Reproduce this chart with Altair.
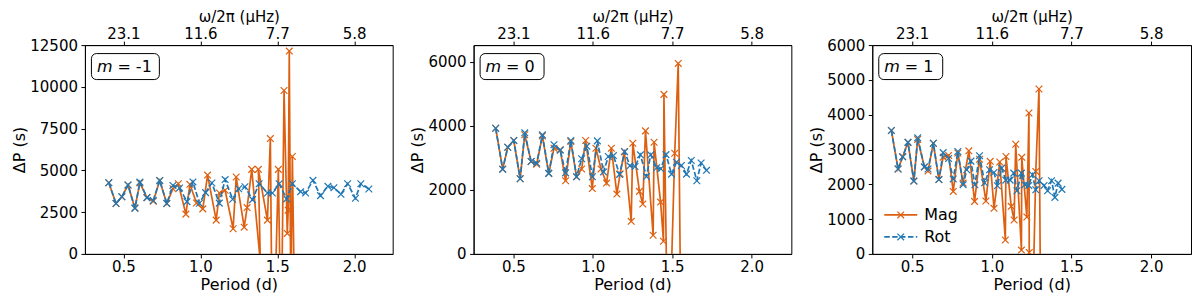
import altair as alt
import pandas as pd

# ---------------- data ----------------
# m = -1
p_rot_m1 = [0.405, 0.452, 0.490, 0.530, 0.575, 0.607, 0.653, 0.694, 0.736, 0.782,
            0.822, 0.865, 0.913, 0.952, 0.994, 1.034, 1.075, 1.123, 1.161, 1.210,
            1.249, 1.290, 1.339, 1.382, 1.436, 1.468, 1.512, 1.561, 1.598, 1.652,
            1.684, 1.732, 1.781, 1.829, 1.868, 1.914, 1.957, 2.008, 2.043, 2.095]
v_rot_m1 = [4260, 3020, 3420, 4125, 2740, 4300, 3370, 3200, 4400, 3020,
            4100, 3950, 3130, 4310, 3030, 3670, 4245, 3040, 4450, 3274,
            3900, 4020, 3250, 4202, 3649, 3649, 4202, 3291, 4202, 3726,
            3649, 4404, 3488, 4047, 3964, 3571, 4202, 3333, 4202, 3887]
p_mag_m1 = [0.405, 0.452, 0.490, 0.530, 0.575, 0.607, 0.653, 0.694, 0.736, 0.782,
            0.822, 0.857, 0.906, 0.932, 0.975, 1.016, 1.047, 1.103, 1.124, 1.161,
            1.213, 1.233, 1.285, 1.304, 1.334, 1.390, 1.377, 1.436, 1.455, 1.470,
            1.507, 1.525, 1.544, 1.565, 1.571, 1.578, 1.588, 1.598, 1.620]
v_mag_m1 = [4260, 3020, 3420, 4125, 2740, 4250, 3370, 3150, 4380, 3020,
            3900, 4200, 2381, 4166, 3050, 2696, 4720, 2024, 3649, 3809,
            1506, 4601, 1600, 2774, 5059, -500, 5059, 2024, 6904, -8000,
            5059, -6000, 9779, 1226, 2619, 12142, -3000, 5833, -8000]

# m = 0
p_rot_0 = [0.389, 0.433, 0.465, 0.503, 0.543, 0.572, 0.612, 0.647, 0.683, 0.723,
           0.756, 0.795, 0.829, 0.862, 0.898, 0.930, 0.963, 0.998, 1.029, 1.068,
           1.098, 1.130, 1.169, 1.201, 1.234, 1.266, 1.300, 1.338, 1.365, 1.402,
           1.428, 1.461, 1.496, 1.527, 1.558, 1.590, 1.620, 1.655, 1.682, 1.716]
v_rot_0 = [3923, 2646, 3330, 3540, 2347, 3780, 2886, 2833, 3717, 2515,
           3410, 3240, 2530, 3540, 2410, 2970, 3360, 2410, 3530, 2560,
           3040, 3070, 2480, 3190, 2751, 2730, 3094, 2414, 3094, 2690,
           2658, 3100, 2491, 2864, 2761, 2491, 2917, 2285, 2840, 2610]
p_mag_0 = [0.389, 0.433, 0.465, 0.503, 0.543, 0.572, 0.612, 0.647, 0.683, 0.723,
           0.756, 0.795, 0.829, 0.862, 0.898, 0.930, 0.955, 0.997, 1.020, 1.052,
           1.087, 1.117, 1.152, 1.172, 1.199, 1.242, 1.252, 1.294, 1.315, 1.332,
           1.380, 1.386, 1.427, 1.445, 1.448, 1.475, 1.516, 1.538, 1.560]
v_mag_0 = [3923, 2646, 3330, 3540, 2347, 3720, 2886, 2800, 3680, 2515,
           3300, 3250, 2284, 3508, 2409, 2650, 3540, 2040, 3300, 2650,
           2211, 3300, 1868, 2500, 3197, 1018, 3456, 1952, 1557, 3842,
           582, 3487, 1619, 395, 4981, -4000, 3144, 5947, -5000]

# m = 1
p_rot_p1 = [0.370, 0.412, 0.441, 0.474, 0.511, 0.535, 0.577, 0.600, 0.633, 0.668,
            0.695, 0.729, 0.758, 0.787, 0.820, 0.843, 0.869, 0.894, 0.923, 0.955,
            0.986, 1.014, 1.035, 1.062, 1.088, 1.115, 1.138, 1.158, 1.186, 1.207,
            1.232, 1.255, 1.276, 1.297, 1.328, 1.350, 1.375, 1.396, 1.416, 1.440]
v_rot_p1 = [3545, 2440, 2790, 3205, 2093, 3335, 2500, 2440, 3181, 2136,
            2910, 2740, 2155, 2943, 1990, 2418, 2666, 1985, 2823, 2045,
            2418, 2340, 1959, 2465, 2120, 2120, 2321, 1816, 2321, 1988,
            1968, 2275, 1845, 2103, 1968, 1816, 2103, 1624, 2034, 1854]
p_mag_p1 = [0.370, 0.412, 0.441, 0.474, 0.511, 0.535, 0.577, 0.600, 0.633, 0.668,
            0.695, 0.729, 0.758, 0.787, 0.820, 0.856, 0.892, 0.923, 0.963, 0.990,
            1.014, 1.050, 1.085, 1.089, 1.122, 1.140, 1.150, 1.186, 1.188, 1.220,
            1.233, 1.235, 1.250, 1.276, 1.296, 1.310]
v_mag_p1 = [3545, 2440, 2790, 3205, 2093, 3290, 2500, 2380, 3181, 2136,
            2780, 2830, 1796, 2900, 2035, 2962, 1510, 2720, 1520, 2660,
            1310, 2640, 400, 2800, 1367, 974, 3152, 110, 2775, 1060,
            4050, 40, -3000, 2370, 4739, -4000]

panel_labels = ["-1", "0", "1"]
y_max = [12500, 6520, 6000]
y_ticks = [[0, 2500, 5000, 7500, 10000, 12500],
           [0, 2000, 4000, 6000],
           [0, 1000, 2000, 3000, 4000, 5000, 6000]]
x_domain = [0.25, 2.25]
x_ticks = [0.5, 1.0, 1.5, 2.0]
top_tick_labels = ["23.1", "11.6", "7.7", "5.8"]
series_names = ["Mag", "Rot"]

ORANGE = "#dd6010"
BLUE = "#1f77b4"
XSHAPE = "M-1,-1L1,1M-1,1L1,-1"
FONT = "DejaVu Sans"
DASH = [5.5, 2.4]

top_expr = " : ".join(
    f"datum.value == {v} ? '{l}'" for v, l in zip(x_ticks, top_tick_labels)
) + " : ''"

widths = [308, 318, 319]
HEIGHT = 209


def make_panel(i, p_mag, v_mag, p_rot, v_rot, show_legend):
    # keep the order of the points (mode order), not sorted by period
    df_mag = pd.DataFrame({"P": p_mag, "dP": v_mag, "k": range(len(p_mag))})
    df_rot = pd.DataFrame({"P": p_rot, "dP": v_rot, "k": range(len(p_rot))})
    xs = alt.Scale(domain=x_domain, nice=False, zero=False)
    ys = alt.Scale(domain=[0, y_max[i]], nice=False)
    y_axis = alt.Axis(values=y_ticks[i], format="d", title="ΔP (s)",
                      labelPadding=3.5, titlePadding=2)
    y = alt.Y("dP:Q", scale=ys, axis=y_axis)

    x_bottom = alt.X("P:Q", scale=xs,
                     axis=alt.Axis(values=x_ticks, format=".1f",
                                   title="Period (d)", orient="bottom",
                                   labelPadding=2, titlePadding=2))
    x_plain = alt.X("P:Q", scale=xs, axis=None)
    x_top = alt.X("P:Q", scale=xs,
                  axis=alt.Axis(values=x_ticks, labelExpr=top_expr,
                                title="ω/2π (μHz)", orient="top",
                                titleFontSize=15, labelPadding=0,
                                titlePadding=2))

    mag_line = alt.Chart(df_mag).mark_line(
        color=ORANGE, strokeWidth=1.7, clip=True).encode(
        x=x_bottom, y=y, order="k:Q")
    mag_pts = alt.Chart(df_mag).mark_point(
        shape=XSHAPE, size=45, color=ORANGE, strokeWidth=1.2,
        filled=False, clip=True, opacity=1).encode(x=x_plain, y=y)
    rot_line = alt.Chart(df_rot).mark_line(
        color=BLUE, strokeWidth=1.7, strokeDash=DASH, clip=True
    ).encode(x=x_plain, y=y, order="k:Q")
    rot_pts = alt.Chart(df_rot).mark_point(
        shape=XSHAPE, size=45, color=BLUE, strokeWidth=1.2,
        filled=False, clip=True, opacity=1).encode(x=x_plain, y=y)
    top_axis = alt.Chart(df_rot).mark_point(opacity=0).encode(x=x_top, y=y)

    one = pd.DataFrame({"a": [0]})
    box_w = 68 if panel_labels[i].startswith("-") else 64
    box = alt.Chart(one).mark_rect(
        fill="white", stroke="black", strokeWidth=1, cornerRadius=5
    ).encode(x=alt.value(6.5), x2=alt.value(6.5 + box_w),
             y=alt.value(8.5), y2=alt.value(34.5))
    m_txt = alt.Chart(one).mark_text(
        text="m", font=FONT, fontSize=16, fontStyle="italic",
        align="left", baseline="middle", color="black"
    ).encode(x=alt.value(12), y=alt.value(21.5))
    eq_txt = alt.Chart(one).mark_text(
        text="= " + panel_labels[i], font=FONT, fontSize=16,
        align="left", baseline="middle", color="black"
    ).encode(x=alt.value(32.5), y=alt.value(21.5))

    layers = [mag_line, mag_pts, rot_line, rot_pts, top_axis, box, m_txt, eq_txt]

    if show_legend:
        rows = [(series_names[0], ORANGE, None, 170),
                (series_names[1], BLUE, DASH, 192)]
        for name, col, dash, yy in rows:
            kw = dict(color=col, strokeWidth=1.7)
            if dash is not None:
                kw["strokeDash"] = dash
            layers.append(alt.Chart(one).mark_rule(**kw).encode(
                x=alt.value(12), x2=alt.value(45), y=alt.value(yy)))
            layers.append(alt.Chart(one).mark_point(
                shape=XSHAPE, size=45, color=col, strokeWidth=1.2,
                filled=False, opacity=1).encode(x=alt.value(28.5), y=alt.value(yy)))
            layers.append(alt.Chart(one).mark_text(
                text=name, font=FONT, fontSize=16, align="left",
                baseline="middle", color="black"
            ).encode(x=alt.value(52), y=alt.value(yy)))

    return alt.layer(*layers).resolve_axis(x="independent").properties(
        width=widths[i], height=HEIGHT)


p1 = make_panel(0, p_mag_m1, v_mag_m1, p_rot_m1, v_rot_m1, False)
p2 = make_panel(1, p_mag_0, v_mag_0, p_rot_0, v_rot_0, False)
p3 = make_panel(2, p_mag_p1, v_mag_p1, p_rot_p1, v_rot_p1, True)

chart = alt.HConcatChart(
    hconcat=[p1, p2, p3], spacing=81, bounds="flush"
).properties(
    padding={"left": 3, "top": 0, "right": 0, "bottom": 0}
).configure_view(
    stroke="black", strokeWidth=1
).configure_axis(
    labelFont=FONT, labelFontSize=15, labelColor="black",
    titleFont=FONT, titleFontSize=16, titleFontWeight="normal",
    titleColor="black", tickColor="black", domainColor="black",
    tickSize=4, grid=False, domainWidth=1, tickWidth=1
)

chart.save("out.html", embed_options={"renderer": "svg", "actions": False})
